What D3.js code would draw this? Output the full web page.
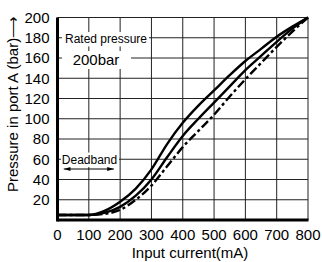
<!DOCTYPE html>
<html><head><meta charset="utf-8">
<script src="https://cdn.jsdelivr.net/npm/d3@7"></script>
<style>body{margin:0;background:#fff}svg{display:block}text{font-family:"Liberation Sans",Arial,sans-serif;fill:#000}</style>
</head><body><svg id="c" width="322" height="262"></svg>
<script>
const current = [0,100,150,200,250,300,350,400,450,500,550,600,650,700,750,800];
const upperCurve  = [5,5,9,18,31,50,75,96,113,128,143,157,169,181,191,200];
const middleCurve = [5,5,7,13,24,40,62,83,100,116,132,148,162,176,189,200];
const dashedCurve = [5,5,6,10,20,34,53,72,88,104,122,139,155,171,186,200];
const xTicks = [0,100,200,300,400,500,600,700,800];
const yTicks = [20,40,60,80,100,120,140,160,180,200];
const xTitle = "Input current(mA)";
const yTitle = "Pressure in port A (bar)⟶";

const svg = d3.select("#c");
const x = d3.scaleLinear().domain([0,800]).range([57.5,308]);
const y = d3.scaleLinear().domain([0,200]).range([220,17.5]);

// grid
const g = svg.append("g");
g.selectAll("line.v").data(xTicks.slice(1)).join("line")
  .attr("x1",d=>x(d)).attr("x2",d=>x(d)).attr("y1",y(0)).attr("y2",y(200))
  .attr("stroke","#222").attr("stroke-width",1);
g.selectAll("line.h").data(yTicks).join("line")
  .attr("x1",x(0)).attr("x2",x(800)).attr("y1",d=>y(d)).attr("y2",d=>y(d))
  .attr("stroke","#222").attr("stroke-width",1);

// annotations with white backgrounds
function boxText(t, cx, cy, fs, x0, x1){
  svg.append("rect").attr("x",x0).attr("y",cy-fs*0.6).attr("width",x1-x0).attr("height",fs*1.2).attr("fill","#fff");
  svg.append("text").attr("x",cx).attr("y",cy).attr("dy","0.35em").attr("text-anchor","middle")
    .attr("font-size",fs).text(t);
}
boxText("Rated pressure", 106, y(180)+1.5, 12, 62, 149);
boxText("200bar", 96, y(160)+2, 15, 62, 131);
boxText("Deadband", 89.5, y(60)+0.5, 12, 61, 119);

// deadband arrow
svg.append("defs").html('<marker id="ah" viewBox="0 0 10 6" refX="10" refY="3" markerWidth="7" markerHeight="4" orient="auto-start-reverse"><path d="M0,0L10,3L0,6z" fill="#000"/></marker>');
svg.append("line").attr("x1",x(20)).attr("x2",x(180)).attr("y1",169).attr("y2",169)
  .attr("stroke","#000").attr("stroke-width",1).attr("marker-start","url(#ah)").attr("marker-end","url(#ah)");

// curves
const line = d3.line().x((d,i)=>x(current[i])).y(d=>y(d)).curve(d3.curveMonotoneX);
svg.append("path").datum(dashedCurve).attr("d",line).attr("fill","none").attr("stroke","#000")
  .attr("stroke-width",2.4).attr("stroke-dasharray","9,3,3,3");
svg.append("path").datum(middleCurve).attr("d",line).attr("fill","none").attr("stroke","#000").attr("stroke-width",2.4);
svg.append("path").datum(upperCurve).attr("d",line).attr("fill","none").attr("stroke","#000").attr("stroke-width",2.4);

// axes
svg.append("line").attr("x1",x(0)).attr("x2",x(0)).attr("y1",y(0)+1.5).attr("y2",y(200)).attr("stroke","#000").attr("stroke-width",3);
svg.append("line").attr("x1",x(0)).attr("x2",x(800)+0.5).attr("y1",y(0)).attr("y2",y(0)).attr("stroke","#000").attr("stroke-width",3);

// tick labels
svg.selectAll("text.yt").data(yTicks).join("text").attr("class","yt")
  .attr("x",49.5).attr("y",d=>y(d)).attr("dy","0.36em").attr("text-anchor","end").attr("font-size",15).text(d=>d);
svg.selectAll("text.xt").data(xTicks).join("text").attr("class","xt")
  .attr("x",d=>x(d)).attr("y",240).attr("text-anchor","middle").attr("font-size",15).text(d=>d);

svg.append("text").attr("x",190).attr("y",258).attr("text-anchor","middle").attr("font-size",15).text(xTitle);
svg.append("text").attr("transform","translate(18,104) rotate(-90)").attr("text-anchor","middle").attr("font-size",15).text(yTitle);
</script></body></html>
